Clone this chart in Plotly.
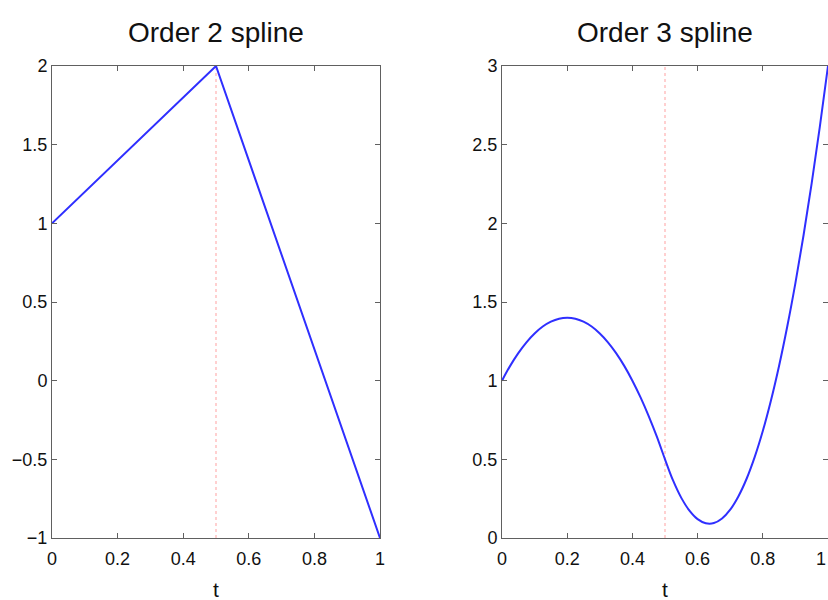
import plotly.graph_objects as go

# Order 2 (piecewise linear) spline: break points and values
t_order2 = [0.0, 0.5, 1.0]
y_order2 = [1.0, 2.0, -1.0]

# Order 3 (quadratic) spline sampled along t
t_order3 = [0.0, 0.025, 0.05, 0.075, 0.1, 0.125, 0.15, 0.175, 0.2, 0.225,
            0.25, 0.275, 0.3, 0.325, 0.35, 0.375, 0.4, 0.425, 0.45, 0.475,
            0.5, 0.525, 0.55, 0.575, 0.6, 0.625, 0.65, 0.675, 0.7, 0.725,
            0.75, 0.775, 0.8, 0.825, 0.85, 0.875, 0.9, 0.925, 0.95, 0.975, 1.0]
y_order3 = [1.000, 1.094, 1.175, 1.244, 1.300, 1.344, 1.375, 1.394, 1.400, 1.394,
            1.375, 1.344, 1.300, 1.244, 1.175, 1.094, 1.000, 0.894, 0.775, 0.644,
            0.500, 0.364, 0.255, 0.174, 0.120, 0.094, 0.095, 0.124, 0.180, 0.264,
            0.375, 0.514, 0.680, 0.874, 1.095, 1.344, 1.620, 1.924, 2.255, 2.614, 3.000]

# Interior knot shown as a dotted vertical marker
knot = 0.5

# Axis limits and ticks
x_ticks = [0, 0.2, 0.4, 0.6, 0.8, 1]
x_tick_text = ["0", "0.2", "0.4", "0.6", "0.8", "1"]
y_range_left = [-1, 2]
y_ticks_left = [-1, -0.5, 0, 0.5, 1, 1.5, 2]
y_tick_text_left = ["\u22121", "\u22120.5", "0", "0.5", "1", "1.5", "2"]
y_range_right = [0, 3]
y_ticks_right = [0, 0.5, 1, 1.5, 2, 2.5, 3]
y_tick_text_right = ["0", "0.5", "1", "1.5", "2", "2.5", "3"]

titles = ["Order 2 spline", "Order 3 spline"]

FONT = "Liberation Sans, Arial, Helvetica, sans-serif"
AXIS_GREY = "#606060"
LINE_BLUE = "#2f2fff"
KNOT_RED = "rgba(255,70,70,0.5)"

fig = go.Figure()

# knot markers (drawn first so the curves sit on top)
fig.add_trace(go.Scatter(x=[knot, knot], y=y_range_left, mode="lines",
                         line=dict(color=KNOT_RED, width=1, dash="dot"),
                         xaxis="x", yaxis="y", showlegend=False, hoverinfo="skip"))
fig.add_trace(go.Scatter(x=[knot, knot], y=y_range_right, mode="lines",
                         line=dict(color=KNOT_RED, width=1, dash="dot"),
                         xaxis="x2", yaxis="y2", showlegend=False, hoverinfo="skip"))

fig.add_trace(go.Scatter(x=t_order2, y=y_order2, mode="lines",
                         line=dict(color=LINE_BLUE, width=2),
                         xaxis="x", yaxis="y", showlegend=False))
fig.add_trace(go.Scatter(x=t_order3, y=y_order3, mode="lines",
                         line=dict(color=LINE_BLUE, width=2, shape="spline", smoothing=1.0),
                         xaxis="x2", yaxis="y2", showlegend=False))

W, H = 828, 600
left_dom = [52 / W, 380 / W]
right_dom = [502 / W, 1.0]
y_dom = [(H - 538) / H, (H - 66) / H]

TICK_SIZE = 18
axis_common = dict(
    showgrid=False, zeroline=False, showline=True, linecolor=AXIS_GREY, linewidth=1,
    mirror="ticks", ticks="inside", ticklen=5, tickwidth=1, tickcolor=AXIS_GREY,
    tickfont=dict(family=FONT, size=TICK_SIZE, color="#111"), automargin=False,
)
x_extra = dict(ticklabelstandoff=4)

fig.update_layout(
    width=W, height=H,
    margin=dict(l=0, r=0, t=0, b=0, pad=0),
    paper_bgcolor="white", plot_bgcolor="white",
    font=dict(family=FONT, color="#111"),
    xaxis=dict(domain=left_dom, range=[0, 1], tickvals=x_ticks, ticktext=x_tick_text,
               anchor="y", **axis_common, **x_extra),
    yaxis=dict(domain=y_dom, range=y_range_left, tickvals=y_ticks_left,
               ticktext=y_tick_text_left, anchor="x", **axis_common),
    xaxis2=dict(domain=right_dom, range=[0, 1], tickvals=x_ticks, ticktext=x_tick_text,
                anchor="y2", **axis_common, **x_extra),
    yaxis2=dict(domain=y_dom, range=y_range_right, tickvals=y_ticks_right,
                ticktext=y_tick_text_right, anchor="x2", **axis_common),
)

# the last x tick label of the right panel sits on the page edge, so place it by hand
fig.add_annotation(text=x_tick_text[-1], x=x_ticks[-1], xref="x2",
                   y=(H - 559) / H, yref="paper", showarrow=False,
                   xanchor="right", yanchor="middle",
                   font=dict(family=FONT, size=TICK_SIZE, color="#111"))

# subplot titles and axis labels
for dom, title in zip([left_dom, right_dom], titles):
    xc = (dom[0] + dom[1]) / 2
    fig.add_annotation(text=title, x=xc, y=(H - 32) / H, xref="paper", yref="paper",
                       showarrow=False, xanchor="center", yanchor="middle",
                       font=dict(family=FONT, size=28, color="#111"))
    fig.add_annotation(text="t", x=xc, y=(H - 589) / H, xref="paper", yref="paper",
                       showarrow=False, xanchor="center", yanchor="middle",
                       font=dict(family=FONT, size=21, color="#111"))

fig.write_html("out.html")
